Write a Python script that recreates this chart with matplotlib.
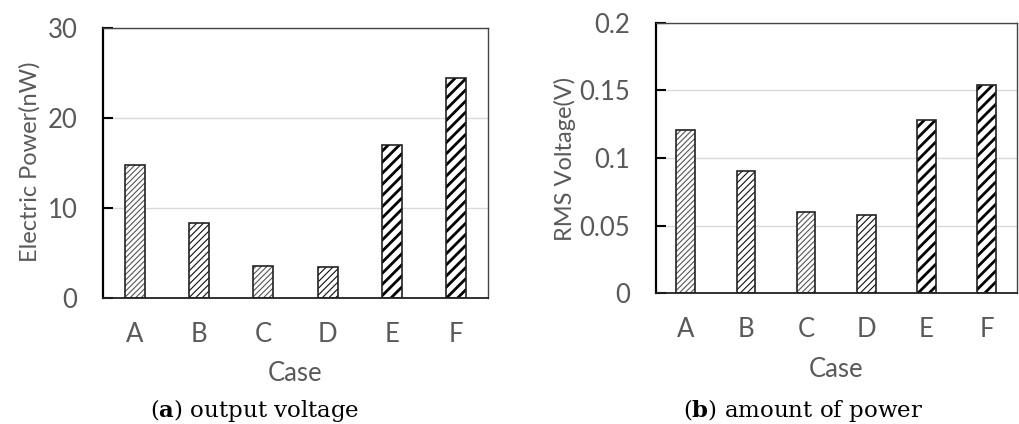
import numpy as np
import matplotlib
matplotlib.use('Agg')
import matplotlib.pyplot as plt

plt.rcParams['font.family'] = ['Lato', 'DejaVu Sans']
plt.rcParams['mathtext.fontset'] = 'dejavuserif'

cases = ['A', 'B', 'C', 'D', 'E', 'F']
power_nw = [14.8, 8.3, 3.55, 3.4, 17.0, 24.4]
rms_v = [0.121, 0.090, 0.060, 0.058, 0.128, 0.154]

# hatch per case: (pattern, hatch colour, hatch line width)
hatches = [('//////', '#555555', 0.8),
           ('/////', '#111111', 0.8),
           ('//////', '#555555', 0.8),
           ('/////', '#111111', 0.8),
           ('///', '#000000', 2.0),
           ('///', '#000000', 2.0)]

txt = '#595959'


def draw_panel(ax, vals, ymax, step, ylabel, fmt, lab_xy, case_xy, pad):
    x = np.arange(len(cases))
    for xi, v, (h, hc, hw) in zip(x, vals, hatches):
        b = ax.bar(xi, v, width=0.31, color='white', edgecolor=hc, linewidth=0,
                   hatch=h, zorder=2)
        for p in b:
            if hasattr(p, 'set_hatch_linewidth'):
                p.set_hatch_linewidth(hw)
        ax.bar(xi, v, width=0.31, fill=False, edgecolor='#222222',
               linewidth=1.2, zorder=3)
    ax.set_xlim(-0.5, len(cases) - 0.5)
    ax.set_ylim(0, ymax)
    yt = np.arange(0, ymax + step / 2, step)
    ax.set_yticks(yt)
    ax.set_yticklabels([fmt(t) for t in yt])
    ax.set_xticks(x)
    ax.set_xticklabels(cases)
    ax.yaxis.grid(True, color='#d9d9d9', linewidth=1.0, zorder=0)
    ax.set_axisbelow(True)
    ax.tick_params(axis='y', direction='in', length=7, width=1.5,
                   colors='black', labelcolor=txt, labelsize=18.5, pad=pad)
    ax.tick_params(axis='x', length=0, labelcolor=txt, labelsize=18.5, pad=17)
    ax.spines['left'].set_linewidth(1.6)
    ax.spines['left'].set_color('black')
    ax.spines['bottom'].set_linewidth(1.3)
    ax.spines['bottom'].set_color('#222222')
    ax.spines['top'].set_linewidth(1.0)
    ax.spines['top'].set_color('#444444')
    ax.spines['right'].set_linewidth(1.0)
    ax.spines['right'].set_color('#444444')
    ax.set_ylabel(ylabel, color=txt, fontsize=17, va='center')
    ax.yaxis.set_label_coords(*lab_xy)
    ax.set_xlabel('Case', color=txt, fontsize=18.5, va='top')
    ax.xaxis.set_label_coords(*case_xy)


W, H = 1019, 424
fig = plt.figure(figsize=(W / 100, H / 100), dpi=100)
ax1 = fig.add_axes([103 / W, (H - 298) / H, 385 / W, 270 / H])
ax2 = fig.add_axes([655.7 / W, (H - 293.3) / H, 361 / W, 270.7 / H])


def fmt_int(t):
    return '%d' % round(t)


def fmt_v(t):
    return '0' if t == 0 else ('%g' % round(t, 3))


draw_panel(ax1, power_nw, 30, 10, 'Electric Power(nW)', fmt_int,
           (-0.19, 0.505), (0.5, -0.235), 18.5)
draw_panel(ax2, rms_v, 0.2, 0.05, 'RMS Voltage(V)', fmt_v,
           (-0.251, 0.496), (0.5, -0.235), 18.5)

fig.text(255 / W, (H - 410) / H, r'($\mathbf{a}$) output voltage',
         family='DejaVu Serif', fontsize=16.5, ha='center', va='center')
fig.text(803 / W, (H - 410) / H, r'($\mathbf{b}$) amount of power',
         family='DejaVu Serif', fontsize=16.5, ha='center', va='center')

fig.savefig('out.png', dpi=100)
